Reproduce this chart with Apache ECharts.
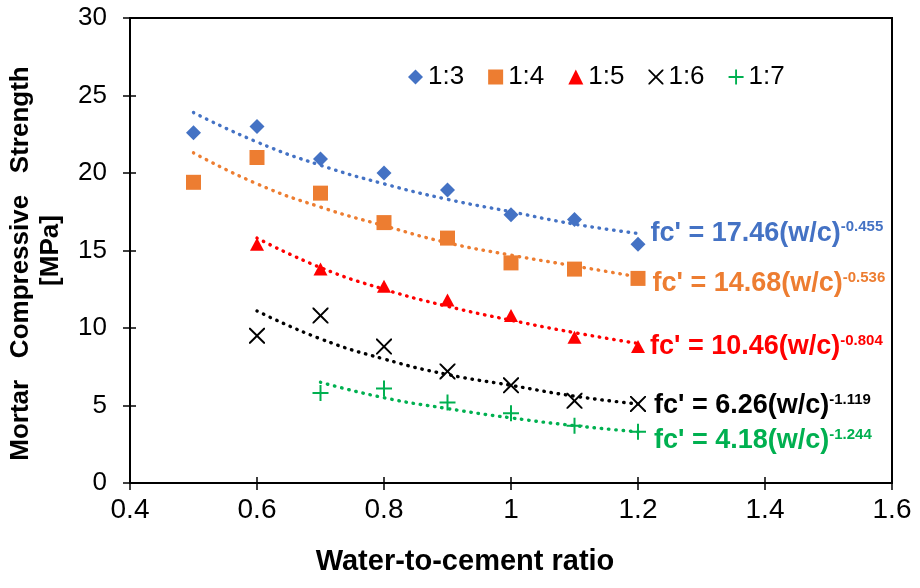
<!DOCTYPE html>
<html>
<head>
<meta charset="utf-8">
<script src="https://cdn.jsdelivr.net/npm/echarts@6/dist/echarts.min.js"></script>
<style>html,body{margin:0;padding:0;background:#fff}#c{width:920px;height:588px}</style>
</head>
<body>
<div id="c"></div>
<script>
// ---- data ----
const seriesNames = ['1:3', '1:4', '1:5', '1:6', '1:7'];
const x13 = [0.5, 0.6, 0.7, 0.8, 0.9, 1.0, 1.1, 1.2];
const y13 = [22.6, 23.0, 20.9, 20.0, 18.9, 17.3, 17.0, 15.4];
const x14 = [0.5, 0.6, 0.7, 0.8, 0.9, 1.0, 1.1, 1.2];
const y14 = [19.4, 21.0, 18.7, 16.8, 15.8, 14.2, 13.8, 13.2];
const x15 = [0.6, 0.7, 0.8, 0.9, 1.0, 1.1, 1.2];
const y15 = [15.4, 13.8, 12.7, 11.8, 10.8, 9.4, 8.8];
const x16 = [0.6, 0.7, 0.8, 0.9, 1.0, 1.1, 1.2];
const y16 = [9.5, 10.8, 8.8, 7.2, 6.3, 5.3, 5.1];
const x17 = [0.7, 0.8, 0.9, 1.0, 1.1, 1.2];
const y17 = [5.8, 6.1, 5.2, 4.5, 3.7, 3.3];
// trendline values
const t13 = [23.9, 22.0, 20.5, 19.3, 18.3, 17.5, 16.7, 16.1];
const t14 = [21.3, 19.3, 17.8, 16.6, 15.5, 14.7, 14.0, 13.3];
const t15 = [15.8, 13.9, 12.5, 11.4, 10.5, 9.7, 9.0];
const t16 = [11.1, 9.3, 8.0, 7.0, 6.3, 5.6, 5.1];
const t17 = [6.5, 5.5, 4.8, 4.2, 3.7, 3.3];
const eqCoef = ['17.46', '14.68', '10.46', '6.26', '4.18'];
const eqExp = ['-0.455', '-0.536', '-0.804', '-1.119', '-1.244'];
const xTicks = [0.4, 0.6, 0.8, 1.0, 1.2, 1.4, 1.6];
const yTicks = [0, 5, 10, 15, 20, 25, 30];

// ---- styling ----
const FONT = "'Liberation Sans', Arial, sans-serif";
const colors = ['#4472C4', '#ED7D31', '#FF0000', '#000000', '#00B050'];
const PLUS = 'path://M-1,-8L1,-8L1,-1L8,-1L8,1L1,1L1,8L-1,8L-1,1L-8,1L-8,-1L-1,-1Z';
const CROSS = 'path://M-8,-8L-6.6,-8L0,-1.4L6.6,-8L8,-8L8,-6.6L1.4,0L8,6.6L8,8L6.6,8L0,1.4L-6.6,8L-8,8L-8,6.6L-1.4,0L-8,-6.6Z';
const symbols = ['diamond', 'rect', 'triangle', CROSS, PLUS];
const symSizes = [15, 15, [14, 13], 16, 16];
const labelOffsets = [[0, -11], [2, 5], [0, 0], [3, 2], [3, 9]];
const xs = [x13, x14, x15, x16, x17];
const ys = [y13, y14, y15, y16, y17];
const ts = [t13, t14, t15, t16, t17];

const series = [];
for (let k = 0; k < 5; k++) {
  series.push({
    name: 'trend ' + seriesNames[k],
    type: 'line',
    smooth: true,
    showSymbol: false,
    silent: true,
    z: 3,
    data: xs[k].map((x, i) => [x, ts[k][i]]),
    lineStyle: { color: colors[k], width: 3.4, type: [0.5, 6.8], cap: 'round' }
  });
}
for (let k = 0; k < 5; k++) {
  const last = xs[k].length - 1;
  series.push({
    name: seriesNames[k],
    type: 'scatter',
    symbol: symbols[k],
    symbolSize: symSizes[k],
    z: 4,
    itemStyle: { color: colors[k], opacity: 1 },
    data: xs[k].map((x, i) => {
      if (i !== last) return [x, ys[k][i]];
      return {
        value: [x, ys[k][i]],
        label: {
          show: true,
          position: 'right',
          distance: 5,
          offset: labelOffsets[k],
          formatter: "{m|fc' = " + eqCoef[k] + "(w/c)}{s|" + eqExp[k] + "}",
          rich: {
            m: { fontFamily: FONT, fontSize: 27, fontWeight: 'bold', color: colors[k] },
            s: { fontFamily: FONT, fontSize: 15, fontWeight: 'bold', color: colors[k], verticalAlign: 'top', padding: [0, 0, 12, 0] }
          }
        }
      };
    })
  });
}

const chart = echarts.init(document.getElementById('c'), null, { renderer: 'canvas' });
chart.setOption({
  animation: false,
  backgroundColor: '#fff',
  grid: { left: 130, right: 28, top: 18, bottom: 105, containLabel: false, outerBoundsMode: 'none', show: true, borderColor: '#000', borderWidth: 2, backgroundColor: 'transparent' },
  legend: {
    data: seriesNames,
    left: 403, top: 59,
    itemWidth: 15, itemHeight: 15, itemGap: 24,
    textStyle: { fontFamily: FONT, fontSize: 26, color: '#000' }
  },
  xAxis: [{
    type: 'value', min: xTicks[0], max: xTicks[xTicks.length - 1], interval: 0.2,
    axisLine: { show: true, lineStyle: { color: '#000', width: 2 } },
    axisTick: { show: true, inside: false, length: 7, lineStyle: { color: '#000', width: 1.5 } },
    axisLabel: { margin: 13, fontFamily: FONT, fontSize: 28, color: '#000', formatter: v => String(Math.round(v * 10) / 10) },
    splitLine: { show: false },
    name: 'Water-to-cement ratio', nameLocation: 'middle', nameGap: 64,
    nameTextStyle: { fontFamily: FONT, fontSize: 29, fontWeight: 'bold', color: '#000', padding: [0, 92, 0, 0] }
  }, {
    type: 'value', min: xTicks[0], max: xTicks[xTicks.length - 1], interval: 0.2, position: 'bottom',
    axisLine: { show: false }, axisLabel: { show: false }, splitLine: { show: false },
    axisTick: { show: true, inside: true, length: 6, lineStyle: { color: '#000', width: 1.5 } }
  }],
  yAxis: [{
    type: 'value', min: yTicks[0], max: yTicks[yTicks.length - 1], interval: 5,
    axisLine: { show: true, lineStyle: { color: '#000', width: 2 } },
    axisTick: { show: true, inside: false, length: 7, lineStyle: { color: '#000', width: 1.5 } },
    axisLabel: { margin: 23, fontFamily: FONT, fontSize: 26, color: '#000' },
    splitLine: { show: false },
    name: '{a|Mortar   Compressive   Strength}\n{b|[MPa]}', nameLocation: 'middle', nameGap: 64, nameRotate: 90,
    nameTextStyle: {
      fontFamily: FONT, fontSize: 26, fontWeight: 'bold', color: '#000', lineHeight: 30,
      rich: {
        a: { fontFamily: FONT, fontSize: 26, fontWeight: 'bold', color: '#000', lineHeight: 30, padding: [0, 26, 0, 0] },
        b: { fontFamily: FONT, fontSize: 26, fontWeight: 'bold', color: '#000', lineHeight: 30 }
      }
    }
  }, {
    type: 'value', min: yTicks[0], max: yTicks[yTicks.length - 1], interval: 5, position: 'left',
    axisLine: { show: false }, axisLabel: { show: false }, splitLine: { show: false },
    axisTick: { show: true, inside: true, length: 6, lineStyle: { color: '#000', width: 1.5 } }
  }],
  series: series
});
</script>
</body>
</html>
